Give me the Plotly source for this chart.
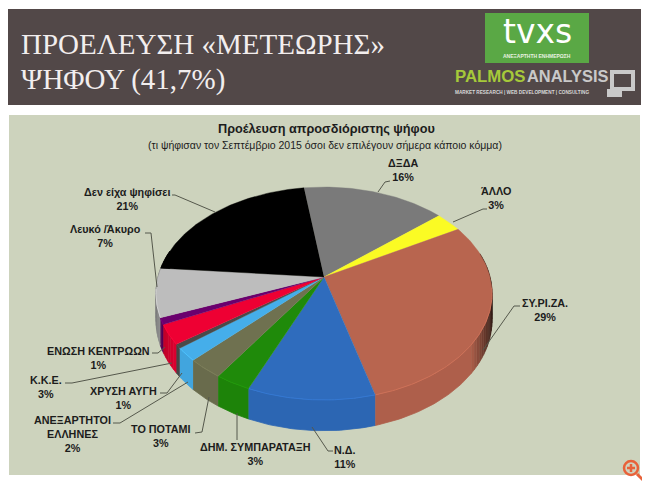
import numpy as np
import plotly.graph_objects as go

# ---------------------------------------------------------------------------
# Data (clockwise from the back of the pie)
# ---------------------------------------------------------------------------

parties = ["ΔΞΔΑ", "ΆΛΛΟ", "ΣΥ.ΡΙ.ΖΑ.", "Ν.Δ.", "ΔΗΜ. ΣΥΜΠΑΡΑΤΑΞΗ", "ΤΟ ΠΟΤΑΜΙ",
           "ΑΝΕΞΑΡΤΗΤΟΙ<br>ΕΛΛΗΝΕΣ", "ΧΡΥΣΗ ΑΥΓΗ", "Κ.Κ.Ε.", "ΕΝΩΣΗ ΚΕΝΤΡΩΩΝ",
           "Λευκό /Άκυρο", "Δεν είχα ψηφίσει"]
# slice sizes, the labels show them rounded
shares = [16, 3, 29, 10.6, 3, 3, 2, 0.6, 3, 1, 7.4, 21.4]
colors = ["#7a7a7a", "#fbfb24", "#b8654f", "#2f6cbd", "#1f8a0a", "#6f7150",
          "#45aeea", "#4a4a4a", "#ee0033", "#6a006e", "#bdbdbd", "#000000"]

# label centres and leader lines, in page pixels
label_pos = [(403, 170), (496, 198), (545, 310), (345, 457), (255, 454), (161, 436),
             (72, 434), (123, 398), (46, 387), (98, 358), (105, 236), (127, 199)]
leaders = [
    [(378, 192), (385, 182), (390, 181)],
    [(453, 222), (483, 209), (487, 209)],
    [(483, 350), (514, 306), (520, 306)],
    [(312, 427), (328, 451), (333, 451)],
    [(237, 413), (237, 440)],
    [(209, 397), (202, 432), (195, 433)],
    [(188, 382), (120, 423), (113, 423)],
    [(182, 373), (167, 393), (160, 393)],
    [(172, 363), (72, 383), (65, 383)],
    [(165, 347), (158, 353), (152, 353)],
    [(157, 287), (151, 233), (145, 233)],
    [(215, 212), (175, 195), (172, 195)],
]

# ---------------------------------------------------------------------------
# Pie projection
# ---------------------------------------------------------------------------

CX, CY = 324, 277
RX, RY = 166, 103.9
PERSP = 0.155
DEPTH = 26
START = -8
# the page body has an 8px margin, so the plot area starts at page pixel 8
PAGE_MARGIN = 8


def project(angle, drop=0.0):
    a = np.radians(angle)
    u, v = np.sin(a), -np.cos(a)
    s = 1 / (1 - PERSP * v)
    return CX + RX * u * s, CY + RY * v * s + drop * s


def shade(hex_color, f):
    rgb = [int(hex_color[i:i + 2], 16) for i in (1, 3, 5)]
    return "rgb(%d,%d,%d)" % tuple(min(255, c * f) for c in rgb)


def wall_factor(angle):
    side = np.sin(np.radians(angle))
    if side > 0.8:
        return 0.95 - 0.75 * (side - 0.8) / 0.2
    if side < -0.8:
        return 0.95 - 0.3 * (-side - 0.8) / 0.2
    return 0.95


def add_wall(a0, a1, color):
    ang = np.linspace(a0, a1, max(3, int(a1 - a0)))
    xt, yt = project(ang)
    xb, yb = project(ang[::-1], DEPTH)
    fig.add_trace(go.Scatter(
        x=np.r_[xt, xb], y=np.r_[yt, yb], mode="lines", fill="toself",
        fillcolor=color, line=dict(color=color, width=0.8), hoverinfo="skip",
    ))


fig = go.Figure()

edges = START + np.cumsum([0] + shares) * 3.6

# side wall first, then the top; only the shaded ends need thin strips
for i, col in enumerate(colors):
    steps = np.arange(edges[i], edges[i + 1], 2.0).tolist() + [edges[i + 1]]
    run_start = None
    for a0, a1 in zip(steps[:-1], steps[1:]):
        mid = (a0 + a1) / 2
        if -np.cos(np.radians(mid)) < -0.25:
            continue
        f = wall_factor(mid)
        if f == 0.95:
            run_start = a0 if run_start is None else run_start
            run_end = a1
            continue
        if run_start is not None:
            add_wall(run_start, run_end, shade(col, 0.95))
            run_start = None
        add_wall(a0, a1, shade(col, f))
    if run_start is not None:
        add_wall(run_start, run_end, shade(col, 0.95))

for i, col in enumerate(colors):
    ang = np.linspace(edges[i], edges[i + 1], max(3, int(shares[i] * 4)))
    xs, ys = project(ang)
    fig.add_trace(go.Scatter(
        x=np.r_[CX, xs], y=np.r_[CY, ys], mode="lines", fill="toself",
        fillcolor=col, line=dict(color=col, width=0.4),
        name=parties[i].replace("<br>", " "),
        hovertemplate="%{fullData.name}: " + str(shares[i]) + "%<extra></extra>",
    ))
    # light bevel along the front rim
    front = ang[-np.cos(np.radians(ang)) > 0.1]
    if len(front) > 1:
        xr, yr = project(front)
        fig.add_trace(go.Scatter(
            x=xr, y=yr, mode="lines", line=dict(color=shade(col, 1.12), width=1),
            hoverinfo="skip",
        ))

for path in leaders:
    fig.add_trace(go.Scatter(
        x=[p[0] for p in path], y=[p[1] for p in path], mode="lines",
        line=dict(color="#55584c", width=1), hoverinfo="skip",
    ))

annotations = []


def add_text(x, y, text, size, color="#1c1c1c", family="Liberation Sans", anchor="center"):
    annotations.append(dict(
        x=x, y=y, xref="x", yref="y", text=text, showarrow=False, xanchor=anchor,
        yanchor="middle", align="center", font=dict(family=family, size=size, color=color),
    ))


for name, share, pos in zip(parties, shares, label_pos):
    add_text(pos[0], pos[1], "<b>%s<br>%d%%</b>" % (name, round(share)), 10.8)

add_text(326, 129, "<b>Προέλευση απροσδιόριστης ψήφου</b>", 12.7)
add_text(325, 145, "(τι ψήφισαν τον Σεπτέμβριο 2015 όσοι δεν επιλέγουν σήμερα κάποιο κόμμα)", 10.5)

add_text(18.5, 44, "ΠΡΟΕΛΕΥΣΗ «ΜΕΤΕΩΡΗΣ»", 29, "#f2eeee", "Liberation Serif", "left")
add_text(18.5, 79, "ΨΗΦΟΥ (41,7%)", 29, "#f2eeee", "Liberation Serif", "left")

# logos
add_text(537, 31, "tvxs", 33, "#ffffff", "DejaVu Sans")
add_text(537, 56, "<b>ΑΝΕΞΑΡΤΗΤΗ ΕΝΗΜΕΡΩΣΗ</b>", 5, "#e8f2e0")
add_text(453, 76, "<b>PALMOS</b>", 16.8, "#a6c93a", "Liberation Sans", "left")
add_text(525, 76, "<b>ANALYSIS</b>", 16.4, "#c9c9c9", "Liberation Sans", "left")
add_text(453, 92, "<b>MARKET RESEARCH | WEB DEVELOPMENT | CONSULTING</b>", 4.7, "#d8d8d8",
         "Liberation Sans", "left")

shapes = [
    dict(type="rect", x0=8, y0=9, x1=641, y1=105, fillcolor="#524848", line_width=0, layer="below"),
    dict(type="rect", x0=9, y0=115, x1=640, y1=475, fillcolor="#cdd3bd", line_width=0, layer="below"),
    dict(type="rect", x0=485, y0=13, x1=589, y1=63, fillcolor="#5aa845", line_width=0, layer="below"),
    dict(type="rect", x0=612, y0=72, x1=633, y1=89, line=dict(color="#c9c9c9", width=4), layer="below"),
    dict(type="rect", x0=607, y0=89, x1=622, y1=97, fillcolor="#c9c9c9", line_width=0, layer="below"),
    # zoom badge
    dict(type="circle", x0=624, y0=461, x1=638, y1=475, fillcolor="#cfd2bf",
         line=dict(color="#e8623a", width=2.5)),
    dict(type="line", x0=637, y0=474, x1=644, y1=481, line=dict(color="#e8623a", width=3)),
    dict(type="line", x0=627, y0=468, x1=635, y1=468, line=dict(color="#e8623a", width=2.5)),
    dict(type="line", x0=631, y0=464, x1=631, y1=472, line=dict(color="#e8623a", width=2.5)),
]

fig.update_layout(
    width=650 - PAGE_MARGIN, height=486 - PAGE_MARGIN, margin=dict(l=0, r=0, t=0, b=0),
    paper_bgcolor="#ffffff", plot_bgcolor="#ffffff", showlegend=False,
    xaxis=dict(range=[PAGE_MARGIN, 650], visible=False, fixedrange=True),
    yaxis=dict(range=[486, PAGE_MARGIN], visible=False, fixedrange=True),
    shapes=shapes, annotations=annotations,
)

fig.write_html("out.html")
